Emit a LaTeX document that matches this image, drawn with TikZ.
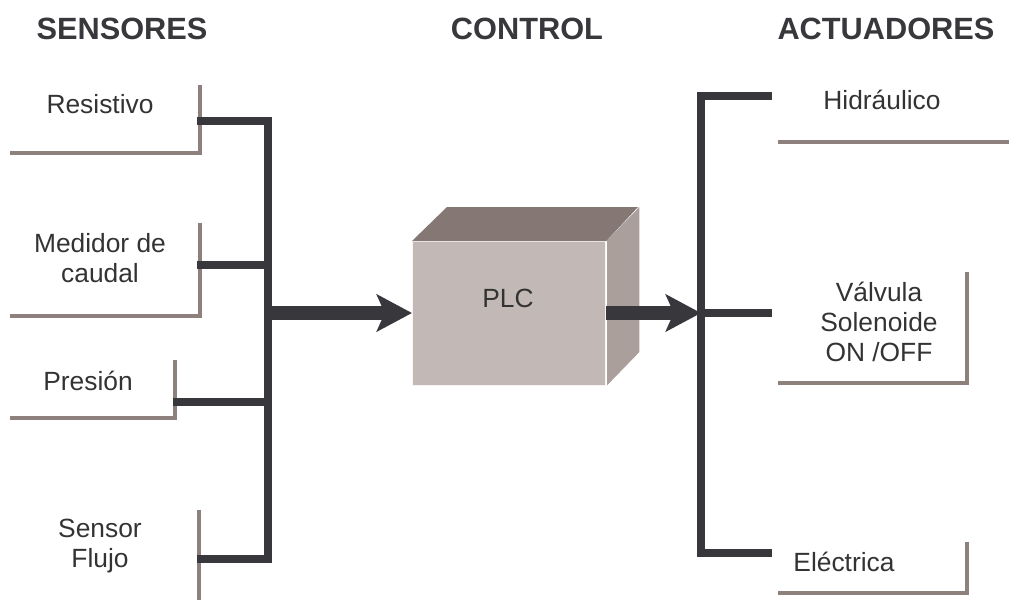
\documentclass[tikz,border=0pt]{standalone}
\usepackage{fontspec}
\setmainfont{Liberation Sans}
\usetikzlibrary{arrows.meta}
\definecolor{ink}{HTML}{38373C}
\definecolor{rule}{HTML}{8E807C}
\definecolor{boxfront}{HTML}{C2B9B6}
\definecolor{boxtop}{HTML}{857773}
\definecolor{boxside}{HTML}{AB9F9B}
\definecolor{txt}{HTML}{333333}

\begin{document}
\begin{tikzpicture}[x=0.02cm,y=-0.02cm,
  lbl/.style={font=\fontsize{15}{17}\selectfont, text=txt, align=center, inner sep=0pt},
  head/.style={font=\bfseries\fontsize{17.5}{20}\selectfont, text=ink, inner sep=0pt},
  frame/.style={draw=rule, line width=2.8pt, line join=miter},
  link/.style={draw=ink, line width=4pt, line join=miter},
  flow/.style={draw=ink, line width=7.5pt, -{Stealth[length=20pt,width=21pt,inset=4.5pt]}}]

\useasboundingbox (0,0) rectangle (1009,600);

% column headings
\node[head] (hs) at (122,29) {SENSORES};
\node[head] (hc) at (527,29) {CONTROL};
\node[head] (ha) at (886,29) {ACTUADORES};

% sensor labels and their frames
\node[lbl] (s1) at (100,104) {Resistivo};
\node[lbl] (s2) at (100,258) {Medidor de\\caudal};
\node[lbl] (s3) at (88,381) {Presión};
\node[lbl] (s4) at (100,546) {Sensor\\Flujo};

\draw[frame] (10,153) -| (200,85);
\draw[frame] (10,316) -| (200,223);
\draw[frame] (10,418) -| (175,360);
\draw[frame] (199,510) -- (199,600);

% sensor bus
\coordinate (b1) at (268,121);
\coordinate (b2) at (268,265);
\coordinate (b3) at (268,402);
\coordinate (b4) at (268,559);
\coordinate (bout) at (268,313);
\coordinate (t1) at (197,121);
\coordinate (t2) at (197,265);
\coordinate (t3) at (173,402);
\coordinate (t4) at (197,559);

\draw[link] (t1) -- (b1) -- (b4) -- (t4);
\draw[link] (t2) -- (b2);
\draw[link] (t3) -- (b3);

% PLC block
\node[draw=white!85!boxfront, line width=0.8pt, fill=boxfront, minimum width=193*0.02cm,
      minimum height=144*0.02cm, inner sep=0pt, anchor=north west] (plc) at (412,241) {};
\fill[boxtop] (plc.north west) -- ++(35,-34) -- ++(191,0) -- (plc.north east) -- cycle;
\fill[boxside] (plc.north east) -- ++(33,-34) -- ++(0,145) -- ++(-33,34) -- cycle;
\draw[white, line width=0.8pt] (plc.north east) -- (plc.south east);
\node[lbl] (plct) at (508,298) {PLC};

\draw[flow] (bout) -- (plc.west |- bout);

% actuator bus
\coordinate (a1) at (701,96);
\coordinate (a2) at (701,313);
\coordinate (a3) at (701,553);
\coordinate (r1) at (772,96);
\coordinate (r2) at (772,313);
\coordinate (r3) at (772,553);

\draw[link] (r1) -- (a1) -- (a3) -- (r3);
\draw[link] (a2) -- (r2);

\draw[flow] (plc.east |- a2) -- (a2);

% actuator labels and their frames
\node[lbl] (a1t) at (882,100) {Hidráulico};
\node[lbl] (a2t) at (879,322) {Válvula\\Solenoide\\ON /OFF};
\node[lbl] (a3t) at (844,562) {Eléctrica};

\draw[frame] (778,142) -- (1009,142);
\draw[frame] (778,383) -| (967,272);
\draw[frame] (778,593) -| (967,542);
\end{tikzpicture}
\end{document}
